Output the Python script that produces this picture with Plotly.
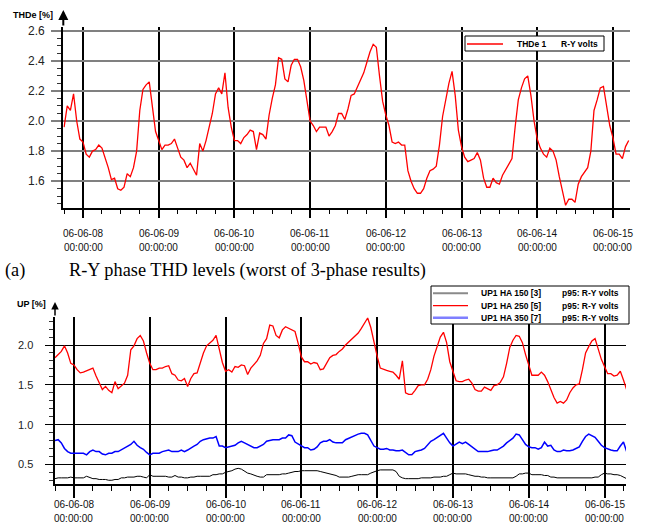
import pandas as pd
import plotly.graph_objects as go

W, H = 648, 525

# ---------------- data ----------------
# hourly readings, first sample at the start time below
thd_start = "2006-06-07 18:00"
thd_values = [
    1.96, 2.10, 2.07, 2.18, 2.00, 1.88,
    1.86, 1.78, 1.76, 1.80, 1.81, 1.84, 1.82, 1.76, 1.69, 1.61, 1.62, 1.55, 1.54, 1.56, 1.65, 1.63, 1.69, 1.80, 2.07, 2.21, 2.24, 2.26, 2.10, 1.93,
    1.87, 1.81, 1.84, 1.84, 1.85, 1.88, 1.82, 1.76, 1.74, 1.69, 1.72, 1.68, 1.64, 1.85, 1.80, 1.87, 1.96, 2.05, 2.18, 2.22, 2.18, 2.32, 2.09, 1.96,
    1.87, 1.87, 1.85, 1.89, 1.91, 1.94, 1.93, 1.81, 1.92, 1.91, 1.88, 2.04, 2.15, 2.24, 2.42, 2.41, 2.28, 2.26, 2.37, 2.41, 2.41, 2.36, 2.27, 2.14,
    2.00, 1.97, 1.93, 1.96, 1.96, 1.96, 1.90, 1.93, 1.97, 2.05, 2.05, 2.01, 2.08, 2.17, 2.18, 2.23, 2.28, 2.32, 2.39, 2.46, 2.51, 2.49, 2.30, 2.13,
    2.04, 1.97, 1.86, 1.85, 1.86, 1.84, 1.84, 1.67, 1.60, 1.55, 1.52, 1.52, 1.55, 1.62, 1.67, 1.68, 1.70, 1.84, 2.03, 2.15, 2.25, 2.33, 2.17, 1.94,
    1.83, 1.76, 1.73, 1.74, 1.75, 1.79, 1.74, 1.62, 1.56, 1.56, 1.62, 1.59, 1.58, 1.64, 1.68, 1.71, 1.75, 1.96, 2.14, 2.22, 2.28, 2.30, 2.17, 2.00,
    1.88, 1.82, 1.78, 1.76, 1.82, 1.80, 1.74, 1.63, 1.53, 1.44, 1.48, 1.48, 1.46, 1.58, 1.63, 1.66, 1.69, 1.80, 2.07, 2.14, 2.22, 2.23, 2.11, 1.97,
    1.89, 1.78, 1.78, 1.75, 1.83, 1.87,
]

up_start = "2006-06-07 18:00"
ha150_values = [
    0.32, 0.33, 0.33, 0.33, 0.33, 0.34,
    0.33, 0.33, 0.33, 0.33, 0.35, 0.33, 0.32, 0.32, 0.31, 0.31, 0.31, 0.30, 0.30, 0.31, 0.31, 0.33, 0.33, 0.34, 0.34, 0.34, 0.35, 0.35, 0.34, 0.33,
    0.37, 0.35, 0.35, 0.35, 0.35, 0.35, 0.34, 0.34, 0.36, 0.34, 0.34, 0.33, 0.33, 0.34, 0.34, 0.35, 0.35, 0.35, 0.35, 0.35, 0.37, 0.37, 0.38, 0.38,
    0.40, 0.41, 0.42, 0.44, 0.45, 0.44, 0.41, 0.39, 0.38, 0.36, 0.35, 0.34, 0.34, 0.37, 0.37, 0.37, 0.37, 0.37, 0.38, 0.38, 0.39, 0.40, 0.41, 0.41,
    0.42, 0.42, 0.42, 0.42, 0.42, 0.42, 0.41, 0.40, 0.39, 0.38, 0.37, 0.36, 0.34, 0.34, 0.34, 0.34, 0.35, 0.36, 0.37, 0.37, 0.37, 0.37, 0.39, 0.41,
    0.42, 0.43, 0.43, 0.43, 0.43, 0.43, 0.41, 0.35, 0.33, 0.32, 0.32, 0.32, 0.32, 0.32, 0.33, 0.33, 0.33, 0.33, 0.34, 0.34, 0.34, 0.35, 0.35, 0.37,
    0.39, 0.38, 0.38, 0.38, 0.38, 0.37, 0.36, 0.35, 0.35, 0.34, 0.34, 0.33, 0.33, 0.33, 0.33, 0.33, 0.33, 0.33, 0.33, 0.33, 0.35, 0.38, 0.38, 0.39,
    0.39, 0.37, 0.37, 0.37, 0.37, 0.36, 0.36, 0.34, 0.34, 0.33, 0.33, 0.33, 0.33, 0.33, 0.33, 0.33, 0.33, 0.33, 0.33, 0.33, 0.33, 0.34, 0.34, 0.37,
    0.39, 0.38, 0.38, 0.37, 0.37, 0.36, 0.34, 0.32,
]
ha250_values = [
    1.84, 1.88, 1.92, 1.99, 1.90, 1.77,
    1.75, 1.69, 1.65, 1.66, 1.68, 1.70, 1.71, 1.61, 1.53, 1.44, 1.48, 1.43, 1.40, 1.54, 1.45, 1.49, 1.52, 1.62, 1.94, 1.99, 2.08, 2.12, 2.05, 1.90,
    1.77, 1.69, 1.69, 1.71, 1.71, 1.73, 1.74, 1.64, 1.62, 1.56, 1.55, 1.58, 1.48, 1.58, 1.64, 1.65, 1.79, 1.90, 1.99, 2.02, 2.06, 2.12, 1.95, 1.78,
    1.67, 1.69, 1.66, 1.73, 1.72, 1.75, 1.74, 1.63, 1.71, 1.76, 1.80, 1.87, 2.02, 2.08, 2.25, 2.24, 2.12, 2.09, 2.19, 2.23, 2.21, 2.19, 2.17, 2.02,
    1.85, 1.79, 1.79, 1.76, 1.78, 1.77, 1.69, 1.70, 1.77, 1.84, 1.87, 1.88, 1.92, 1.95, 2.00, 2.04, 2.08, 2.12, 2.15, 2.21, 2.28, 2.34, 2.22, 2.02,
    1.86, 1.71, 1.69, 1.68, 1.67, 1.66, 1.62, 1.57, 1.80, 1.40, 1.38, 1.38, 1.43, 1.49, 1.50, 1.50, 1.57, 1.69, 1.86, 1.98, 2.10, 2.16, 2.03, 1.79,
    1.68, 1.55, 1.54, 1.54, 1.56, 1.57, 1.52, 1.44, 1.42, 1.42, 1.47, 1.45, 1.43, 1.49, 1.50, 1.53, 1.60, 1.77, 1.97, 2.06, 2.12, 2.11, 2.03, 1.88,
    1.74, 1.62, 1.62, 1.62, 1.66, 1.62, 1.54, 1.44, 1.34, 1.27, 1.29, 1.27, 1.31, 1.40, 1.46, 1.50, 1.51, 1.69, 1.90, 1.98, 2.05, 2.08, 1.94, 1.82,
    1.73, 1.64, 1.64, 1.61, 1.62, 1.67, 1.56, 1.44,
]
ha350_values = [
    0.80, 0.81, 0.77, 0.70, 0.66, 0.64,
    0.64, 0.64, 0.64, 0.64, 0.62, 0.66, 0.68, 0.66, 0.66, 0.63, 0.62, 0.64, 0.64, 0.66, 0.66, 0.68, 0.70, 0.72, 0.75, 0.79, 0.74, 0.71, 0.69, 0.65,
    0.62, 0.64, 0.64, 0.64, 0.66, 0.67, 0.68, 0.66, 0.66, 0.66, 0.68, 0.66, 0.68, 0.71, 0.73, 0.75, 0.79, 0.81, 0.82, 0.83, 0.83, 0.85, 0.73, 0.73,
    0.71, 0.72, 0.73, 0.74, 0.77, 0.79, 0.77, 0.75, 0.73, 0.71, 0.71, 0.73, 0.75, 0.79, 0.80, 0.81, 0.81, 0.81, 0.83, 0.83, 0.87, 0.86, 0.78, 0.76,
    0.73, 0.71, 0.71, 0.68, 0.69, 0.72, 0.77, 0.79, 0.79, 0.81, 0.78, 0.77, 0.77, 0.77, 0.81, 0.83, 0.85, 0.86, 0.88, 0.89, 0.89, 0.87, 0.79, 0.73,
    0.71, 0.69, 0.69, 0.70, 0.68, 0.68, 0.67, 0.67, 0.68, 0.65, 0.62, 0.62, 0.66, 0.67, 0.68, 0.70, 0.74, 0.79, 0.81, 0.84, 0.86, 0.89, 0.83, 0.77,
    0.73, 0.75, 0.78, 0.76, 0.78, 0.75, 0.72, 0.68, 0.66, 0.66, 0.66, 0.66, 0.67, 0.68, 0.68, 0.70, 0.73, 0.77, 0.80, 0.83, 0.88, 0.87, 0.81, 0.75,
    0.72, 0.71, 0.71, 0.69, 0.71, 0.78, 0.73, 0.74, 0.68, 0.66, 0.66, 0.68, 0.67, 0.67, 0.68, 0.70, 0.72, 0.79, 0.85, 0.88, 0.86, 0.84, 0.79, 0.74,
    0.71, 0.69, 0.68, 0.67, 0.67, 0.73, 0.78, 0.66,
]

day_ticks = ["2006-06-08", "2006-06-09", "2006-06-10", "2006-06-11",
             "2006-06-12", "2006-06-13", "2006-06-14", "2006-06-15"]
day_dates = ["06-06-08", "06-06-09", "06-06-10", "06-06-11",
             "06-06-12", "06-06-13", "06-06-14", "06-06-15"]
day_times = ["00:00:00"] * 8
thd_yticks = [1.6, 1.8, 2.0, 2.2, 2.4, 2.6]
up_yticks = [0.5, 1.0, 1.5, 2.0]

thd_name = "THDe 1"
thd_desc = "R-Y volts"
up_names = ["UP1 HA 150 [3]", "UP1 HA 250 [5]", "UP1 HA 350 [7]"]
up_desc = "p95: R-Y volts"
up_colors = ["#000000", "#ff0000", "#0000ff"]
caption_a = "(a)"
caption_text = "R-Y phase THD levels (worst of 3-phase results)"

# ---------------- helpers ----------------
def px(x):
    return x / W

def py(y):
    return 1 - y / H

SANS = "Liberation Sans, Arial, sans-serif"
SERIF = "Liberation Serif, Times New Roman, serif"

t_thd = pd.date_range(thd_start, periods=len(thd_values), freq="h")
t_up = pd.date_range(up_start, periods=len(ha250_values), freq="h")

fig = go.Figure()
fig.add_trace(go.Scatter(x=t_thd, y=thd_values, mode="lines", name=thd_name,
                         line=dict(color="#ff0000", width=1.3), xaxis="x", yaxis="y",
                         showlegend=False))
for name, vals, col, w in zip(up_names, [ha150_values, ha250_values, ha350_values],
                              up_colors, [1.0, 1.3, 1.5]):
    fig.add_trace(go.Scatter(x=t_up, y=vals, mode="lines", name=name,
                             line=dict(color=col, width=w), xaxis="x2", yaxis="y2",
                             showlegend=False))

SIX_H = 6 * 3600 * 1000
xcommon = dict(type="date", tickmode="array", tickvals=day_ticks, showticklabels=False,
               ticks="outside", tickcolor="black", showgrid=True, gridcolor="black",
               showline=True, linecolor="black", zeroline=False)

fig.update_layout(
    width=W, height=H, autosize=False,
    margin=dict(l=0, r=0, t=0, b=0),
    paper_bgcolor="white", plot_bgcolor="white",
    showlegend=False,
    xaxis=dict(domain=[px(63.3), px(630)], anchor="y",
               range=["2006-06-07 17:45", "2006-06-15 05:25"],
               ticklen=8, tickwidth=2, gridwidth=2, linewidth=2,
               minor=dict(tickmode="linear", tick0="2006-06-08", dtick=SIX_H,
                          ticks="outside", ticklen=4, tickwidth=1, tickcolor="black",
                          showgrid=False),
               **xcommon),
    yaxis=dict(domain=[py(208.3), py(27)], anchor="x", range=[1.42, 2.6246],
               tickmode="array", tickvals=thd_yticks, showticklabels=False,
               ticks="outside", ticklen=10, tickwidth=2, tickcolor="#7f7f7f",
               showgrid=True, gridcolor="#808080", gridwidth=2,
               showline=True, linecolor="black", linewidth=2, zeroline=False,
               minor=dict(tickmode="linear", tick0=1.6, dtick=0.05, ticks="outside",
                          ticklen=4, tickwidth=1, tickcolor="#333", showgrid=False)),
    xaxis2=dict(domain=[px(55), px(626)], anchor="y2",
                range=["2006-06-07 18:00", "2006-06-15 06:48"],
                ticklen=12, tickwidth=1.5, gridwidth=1.5, linewidth=1.5,
                minor=dict(tickmode="linear", tick0="2006-06-08", dtick=SIX_H,
                           ticks="outside", ticklen=5, tickwidth=1, tickcolor="black",
                           showgrid=False),
                **xcommon),
    yaxis2=dict(domain=[py(484), py(316.7)], anchor="x2", range=[0.253, 2.356],
                tickmode="array", tickvals=up_yticks, showticklabels=False,
                ticks="outside", ticklen=8, tickwidth=1, tickcolor="black",
                showgrid=True, gridcolor="black", gridwidth=1,
                showline=True, linecolor="black", linewidth=1.5, zeroline=False,
                minor=dict(tickmode="linear", tick0=0.5, dtick=0.1, ticks="outside",
                           ticklen=4, tickwidth=1, tickcolor="#333", showgrid=False)),
)

ann = []
shapes = []
# date tick labels (two lines) placed on the library's date axes
for xref, y1, y2, fs in [("x", 233.8, 247.5, 10), ("x2", 504.5, 518.5, 10)]:
    for d, dl, tl in zip(day_ticks, day_dates, day_times):
        for yy, txt in [(y1, dl), (y2, tl)]:
            ann.append(dict(x=d, xref=xref, y=py(yy), yref="paper", xanchor="center",
                            yanchor="middle", showarrow=False, text=txt,
                            font=dict(family=SANS, size=fs, color="#111")))
# value tick labels placed on the library's value axes
for yref, xr, ticks, fs in [("y", 46.5, thd_yticks, 12), ("y2", 34.5, up_yticks, 11)]:
    for v in ticks:
        ann.append(dict(x=px(xr), xref="paper", y=v, yref=yref, xanchor="right",
                        yanchor="middle", showarrow=False, text=f"{v:.1f}",
                        font=dict(family=SANS, size=fs, color="#222")))

# axis arrows and unit labels
ann.append(dict(x=px(63.3), y=py(10), xref="paper", yref="paper", ax=0, ay=17,
                showarrow=True, arrowhead=2, arrowsize=1, arrowwidth=2,
                arrowcolor="black", text=""))
ann.append(dict(x=px(55), y=py(302), xref="paper", yref="paper", ax=0, ay=15,
                showarrow=True, arrowhead=2, arrowsize=1, arrowwidth=1.5,
                arrowcolor="black", text=""))
ann.append(dict(x=px(11), y=py(15), xref="paper", yref="paper", xanchor="left",
                yanchor="middle", showarrow=False, text="<b>THDe [%]</b>",
                font=dict(family=SANS, size=9, color="black")))
ann.append(dict(x=px(15), y=py(304), xref="paper", yref="paper", xanchor="left",
                yanchor="middle", showarrow=False, text="<b>UP [%]</b>",
                font=dict(family=SANS, size=9, color="black")))
# caption
ann.append(dict(x=px(3), y=py(270), xref="paper", yref="paper", xanchor="left",
                yanchor="middle", showarrow=False, text=caption_a,
                font=dict(family=SERIF, size=18.3, color="black")))
ann.append(dict(x=px(67), y=py(270), xref="paper", yref="paper", xanchor="left",
                yanchor="middle", showarrow=False, text=caption_text,
                font=dict(family=SERIF, size=18.3, color="black")))

LEG_FONT = dict(family=SANS, size=8.5, color="black")
# top legend
shapes.append(dict(type="rect", xref="paper", yref="paper", x0=px(465), x1=px(604),
                   y0=py(51), y1=py(36), line=dict(color="black", width=1),
                   fillcolor="white", layer="above"))
shapes.append(dict(type="line", xref="paper", yref="paper", x0=px(467), x1=px(503),
                   y0=py(44), y1=py(44), line=dict(color="#ff0000", width=1.3),
                   layer="above"))
ann.append(dict(x=px(514.5), y=py(43.5), xref="paper", yref="paper", xanchor="left",
                yanchor="middle", showarrow=False, text="<b>" + thd_name + "</b>",
                font=LEG_FONT))
ann.append(dict(x=px(558.5), y=py(43.5), xref="paper", yref="paper", xanchor="left",
                yanchor="middle", showarrow=False, text="<b>" + thd_desc + "</b>",
                font=LEG_FONT))

# bottom legend
shapes.append(dict(type="rect", xref="paper", yref="paper", x0=px(431), x1=px(629),
                   y0=py(324), y1=py(286), line=dict(color="black", width=1),
                   fillcolor="white", layer="above"))
leg_y = [293.3, 305.7, 317.7]
leg_line = [("#8a8a8a", 2), ("#ff0000", 1.3), ("#7f7fff", 2.5)]
for yy, name, (lc, lw) in zip(leg_y, up_names, leg_line):
    shapes.append(dict(type="line", xref="paper", yref="paper", x0=px(433), x1=px(468),
                       y0=py(yy), y1=py(yy), line=dict(color=lc, width=lw),
                       layer="above"))
    ann.append(dict(x=px(478.5), y=py(yy), xref="paper", yref="paper", xanchor="left",
                    yanchor="middle", showarrow=False, text="<b>" + name + "</b>",
                    font=LEG_FONT))
    ann.append(dict(x=px(560), y=py(yy), xref="paper", yref="paper", xanchor="left",
                    yanchor="middle", showarrow=False, text="<b>" + up_desc + "</b>",
                    font=LEG_FONT))

fig.update_layout(annotations=ann, shapes=shapes)
# the page's default 8px body margin would shift the figure; remove it
fig.write_html("out.html", config={"displayModeBar": False},
               post_script="document.body.style.margin='0px';document.body.style.padding='0px';")
